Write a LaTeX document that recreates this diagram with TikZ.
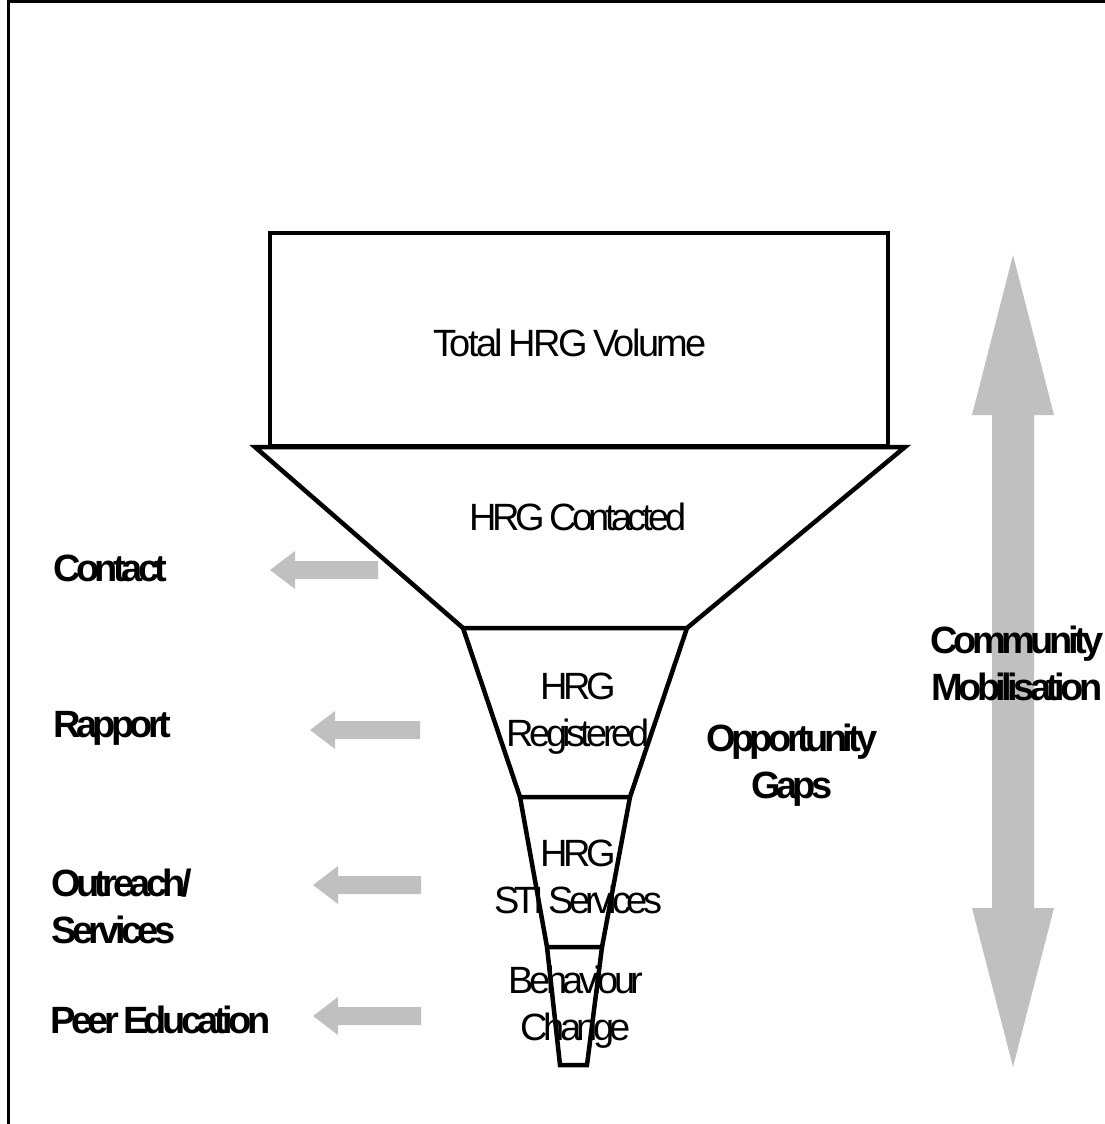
\documentclass[tikz,border=0pt]{standalone}
\usepackage{fontspec}
\setmainfont{Liberation Sans}[LetterSpace=-12, WordSpace=0.7]
\usetikzlibrary{positioning}
\definecolor{silver}{RGB}{192,192,192}
\newcommand{\bigtext}{\fontsize{38}{47}\selectfont}
\tikzset{
    stage/.style={align=center, inner sep=0pt, font=\bigtext},
    tag/.style={stage, font=\bfseries\bigtext},
    side/.style={tag, align=left, anchor=west},
    funnel/.style={draw, line width=4.5pt, line join=miter},
    pointer/.style={fill=silver},
}
\begin{document}
\begin{tikzpicture}[x=1pt, y=-1pt]
    \useasboundingbox (0,0) rectangle (1105,1124);
    % frame, top and left only
    \draw[line width=3pt] (8,1124) -- (8,2) -- (1105,2);

    % the funnel
    \draw[funnel] (270,233) rectangle (888,446);
    \draw[funnel] (255,447) -- (905,447) -- (687,628) -- (463,628) -- cycle;
    \draw[funnel] (463,628) -- (520,797) -- (630,797) -- (687,628);
    \draw[funnel] (520,797) -- (547,947) -- (602,947) -- (630,797);
    \draw[funnel] (547,947) -- (560,1065) -- (587,1065) -- (602,947);

    \node[stage, font={\bigtext\addfontfeature{LetterSpace=-7}}] (volume) at (570,343) {Total HRG Volume};
    \node[stage] (contacted) at (578,517) {HRG Contacted};
    \node[stage] (registered) at (578,714) {HRG\\Registered};
    \node[stage] (sti) at (578,877) {HRG\\STI Services};
    \node[stage] (behaviour) at (576,1007) {Behaviour\\Change};

    % grey arrows on the left
    \foreach \tip/\tail/\y in {270/378/570, 310/420/730, 313/421/885, 313/421/1016}
        \fill[pointer] (\tip,\y) -- (\tip+25,\y-19) -- (\tip+25,\y-9) -- (\tail,\y-9)
            -- (\tail,\y+9) -- (\tip+25,\y+9) -- (\tip+25,\y+19) -- cycle;

    \node[side] (contact) at (53,568) {Contact};
    \node[side] (rapport) at (53,728) {Rapport};
    \node[side] (outreach) at (51,906) {Outreach/\\Services};
    \node[side] (peer) at (50,1020) {Peer Education};

    % double arrow on the right
    \fill[pointer] (1013,255) -- (1054,415) -- (1034,415) -- (1034,908) -- (1054,908)
        -- (1013,1067) -- (972,908) -- (992,908) -- (992,415) -- (972,415) -- cycle;

    \node[tag] (gaps) at (792,765) {Opportunity\\Gaps};
    \node[tag] (mobilisation) at (1017,663) {Community\\Mobilisation};
\end{tikzpicture}
\end{document}
